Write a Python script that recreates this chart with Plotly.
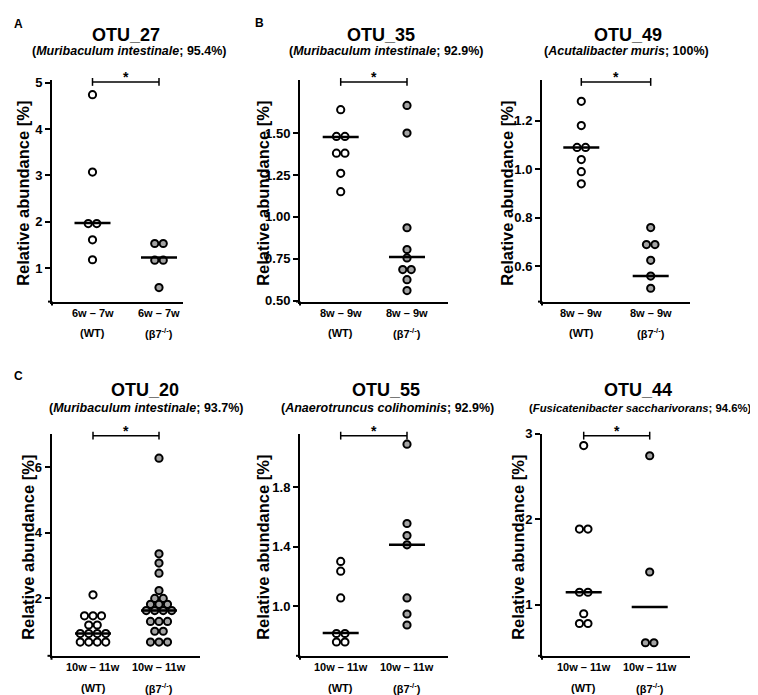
import plotly.graph_objects as go

W, H = 758, 695

# ---------------- data ----------------
otu_names = ["OTU_27", "OTU_35", "OTU_49", "OTU_20", "OTU_55", "OTU_44"]
species = ["Muribaculum intestinale", "Muribaculum intestinale", "Acutalibacter muris",
           "Muribaculum intestinale", "Anaerotruncus colihominis", "Fusicatenibacter saccharivorans"]
identity = ["95.4%", "92.9%", "100%", "93.7%", "92.9%", "94.6%"]
age_labels = ["6w – 7w", "8w – 9w", "8w – 9w", "10w – 11w", "10w – 11w", "10w – 11w"]
group_labels = ["(WT)", "(β7<sup>-/-</sup>)"]
panel_letters = ["A", "B", "C"]

wt_otu27 = [4.74, 3.07, 1.96, 1.96, 1.61, 1.18]
b7_otu27 = [1.53, 1.53, 1.17, 1.17, 0.58]
wt_otu35 = [1.64, 1.48, 1.48, 1.38, 1.38, 1.26, 1.15]
b7_otu35 = [1.665, 1.50, 0.935, 0.805, 0.755, 0.685, 0.685, 0.625, 0.56]
wt_otu49 = [1.28, 1.18, 1.09, 1.09, 1.04, 0.99, 0.94]
b7_otu49 = [0.76, 0.69, 0.69, 0.625, 0.56, 0.51]
wt_otu20 = [2.11, 1.47, 1.47, 1.47, 1.19, 1.19, 0.93, 0.93, 0.93, 0.93, 0.67, 0.67, 0.67, 0.67]
b7_otu20 = [6.28, 3.36, 3.08, 2.77, 2.24, 2.00, 2.00, 1.82, 1.82, 1.82,
            1.63, 1.63, 1.63, 1.63, 1.30, 1.30, 1.30, 1.00, 1.00, 0.67, 0.67, 0.67]
wt_otu55 = [1.30, 1.235, 1.055, 0.816, 0.816, 0.759, 0.759]
b7_otu55 = [2.088, 1.555, 1.474, 1.412, 1.055, 0.947, 0.873]
wt_otu44 = [2.863, 1.885, 1.885, 1.145, 1.145, 0.893, 0.779, 0.779]
b7_otu44 = [2.744, 1.382, 0.553, 0.553]

median_wt = [1.97, 1.477, 1.09, 0.93, 0.82, 1.145]
median_b7 = [1.23, 0.761, 0.56, 1.63, 1.412, 0.973]

ytick_vals = [[1, 2, 3, 4, 5], [0.5, 0.75, 1.0, 1.25, 1.5], [0.6, 0.8, 1.0, 1.2],
              [2, 4, 6], [1.0, 1.4, 1.8], [1, 2, 3]]
ytick_fmt = ["d", ".2f", ".1f", "d", ".1f", "d"]
y_ranges = [[0.277, 5.053], [0.494, 1.816], [0.455, 1.367],
            [0.25, 7.02], [0.666, 2.157], [0.40, 3.0]]

wt_values = [wt_otu27, wt_otu35, wt_otu49, wt_otu20, wt_otu55, wt_otu44]
b7_values = [b7_otu27, b7_otu35, b7_otu49, b7_otu20, b7_otu55, b7_otu44]

# ---------------- layout (pixels) ----------------
x_dom_px = [(44, 175), (292, 440), (534, 682), (43.5, 191.5), (292, 440), (534, 682)]
y_dom_px = [(66.5, 292.5)] * 3 + [(427.5, 654)] * 3
group_px = [(84.5, 151), (332.7, 399), (573.3, 642.7), (85, 151), (332.7, 399), (575.7, 641.7)]
title_px = [(118, 20), (373, 20), (620, 20), (137, 383), (378, 383), (630, 383)]
sub_px = [(121.5, 37), (378, 37), (618, 37), (138, 401), (379, 401), (746, 401)]
sub_anchor = ["center", "center", "center", "center", "center", "right"]
sub_size = [12.5, 12.5, 12.5, 12.5, 12.5, 11.3]
ytitle_x = [15, 255, 499, 20, 255, 510]
letter_px = [(4, 9), (245, 8), (4, 368)]

FONT = "Arial, 'Liberation Sans', Helvetica, sans-serif"
WT_FILL = "white"
B7_FILL = "#a3a3a3"


def px2paper(x, y):
    return x / W, 1 - y / H


def spread(values, center, step):
    counts = {}
    for v in values:
        k = round(v, 3)
        counts[k] = counts.get(k, 0) + 1
    seen = {}
    xs = []
    for v in values:
        k = round(v, 3)
        n = counts[k]
        j = seen.get(k, 0)
        seen[k] = j + 1
        xs.append(center + (j - (n - 1) / 2) * step)
    return xs


fig = go.Figure()
layout = {}
annotations = []
shapes = []

for i in range(6):
    ax = "" if i == 0 else str(i + 1)
    xd = x_dom_px[i]
    yd = y_dom_px[i]
    g0, g1 = group_px[i]
    unit = g1 - g0
    xr = [(xd[0] - g0) / unit, (xd[1] - g0) / unit]
    hpx = yd[1] - yd[0]
    wpx = xd[1] - xd[0]

    layout[f"xaxis{ax}"] = dict(domain=[xd[0] / W, xd[1] / W], range=xr, showline=True,
                                linecolor="black", linewidth=2, ticks="", showticklabels=False,
                                showgrid=False, zeroline=False, anchor=f"y{ax}", fixedrange=True)
    layout[f"yaxis{ax}"] = dict(domain=[1 - yd[1] / H, 1 - yd[0] / H], range=y_ranges[i],
                                showline=True, linecolor="black", linewidth=2,
                                ticks="outside", ticklen=5, tickwidth=2, tickcolor="black",
                                tickvals=ytick_vals[i], tickformat=ytick_fmt[i],
                                tickfont=dict(family=FONT, size=13, color="black", weight="bold"),
                                showgrid=False, zeroline=False, anchor=f"x{ax}", fixedrange=True)

    # small cross at the origin (axis overshoot)
    shapes.append(dict(type="line", xref=f"x{ax} domain", yref=f"y{ax} domain",
                       x0=0, x1=0, y0=0, y1=-4.0 / hpx, line=dict(color="black", width=2)))
    shapes.append(dict(type="line", xref=f"x{ax} domain", yref=f"y{ax} domain",
                       x0=-4.0 / wpx, x1=0, y0=0, y1=0, line=dict(color="black", width=2)))

    step = 8.5 / unit
    hw = 18.0 / unit
    for gi, (vals, fill) in enumerate([(wt_values[i], WT_FILL), (b7_values[i], B7_FILL)]):
        fig.add_trace(go.Scatter(
            x=spread(vals, gi, step), y=vals, mode="markers",
            marker=dict(symbol="circle", size=7.2, color=fill,
                        line=dict(color="black", width=2)),
            xaxis=f"x{ax}", yaxis=f"y{ax}", hoverinfo="skip", cliponaxis=False))
    for gi, med in enumerate([median_wt[i], median_b7[i]]):
        fig.add_trace(go.Scatter(
            x=[gi - hw, gi + hw], y=[med, med], mode="lines",
            line=dict(color="black", width=2.5),
            xaxis=f"x{ax}", yaxis=f"y{ax}", hoverinfo="skip", cliponaxis=False))

    # significance bracket
    yb = 1 - 1.8 / hpx
    tk = 4.0 / hpx
    shapes.append(dict(type="line", xref=f"x{ax}", yref=f"y{ax} domain", x0=0, x1=1, y0=yb, y1=yb,
                       line=dict(color="black", width=1.5)))
    for gx in (0, 1):
        shapes.append(dict(type="line", xref=f"x{ax}", yref=f"y{ax} domain", x0=gx, x1=gx,
                           y0=yb - tk, y1=yb + tk, line=dict(color="black", width=1.5)))
    annotations.append(dict(x=0.5, y=yb, xref=f"x{ax}", yref=f"y{ax} domain", text="*",
                            showarrow=False, yanchor="bottom", yshift=-5,
                            font=dict(family=FONT, size=14, color="black", weight="bold")))

    # titles
    tx, ty = px2paper(*title_px[i])
    annotations.append(dict(x=tx, y=ty, xref="paper", yref="paper", text=otu_names[i],
                            showarrow=False, xanchor="center", yanchor="middle",
                            font=dict(family=FONT, size=18, color="black", weight="bold")))
    sx, sy = px2paper(*sub_px[i])
    annotations.append(dict(x=sx, y=sy, xref="paper", yref="paper",
                            text=f"(<i>{species[i]}</i>; {identity[i]})",
                            showarrow=False, xanchor=sub_anchor[i], yanchor="middle",
                            font=dict(family=FONT, size=sub_size[i], color="black", weight="bold")))
    # y title
    yx, yy = px2paper(ytitle_x[i], (yd[0] + yd[1]) / 2 + 3)
    annotations.append(dict(x=yx, y=yy, xref="paper", yref="paper",
                            text="Relative abundance [%]", textangle=-90,
                            showarrow=False, xanchor="center", yanchor="middle",
                            font=dict(family=FONT, size=16.5, color="black", weight="bold")))
    # x labels
    for gi in (0, 1):
        for line_txt, off in ((age_labels[i], 11.5), (group_labels[gi], 32.5)):
            _, ly = px2paper(0, yd[1] + off)
            annotations.append(dict(x=gi, y=ly, xref=f"x{ax}", yref="paper",
                                    text=line_txt, showarrow=False,
                                    xanchor="center", yanchor="middle",
                                    font=dict(family=FONT, size=11, color="black", weight="bold")))

for letter, (lx, ly) in zip(panel_letters, letter_px):
    px_, py_ = px2paper(lx, ly)
    annotations.append(dict(x=px_, y=py_, xref="paper", yref="paper", text=letter,
                            showarrow=False, xanchor="left", yanchor="middle",
                            font=dict(family=FONT, size=12, color="black", weight="bold")))

fig.update_layout(width=W, height=H, margin=dict(l=0, r=0, t=0, b=0),
                  paper_bgcolor="white", plot_bgcolor="white", showlegend=False,
                  annotations=annotations, shapes=shapes, **layout)

fig.write_html("out.html")
